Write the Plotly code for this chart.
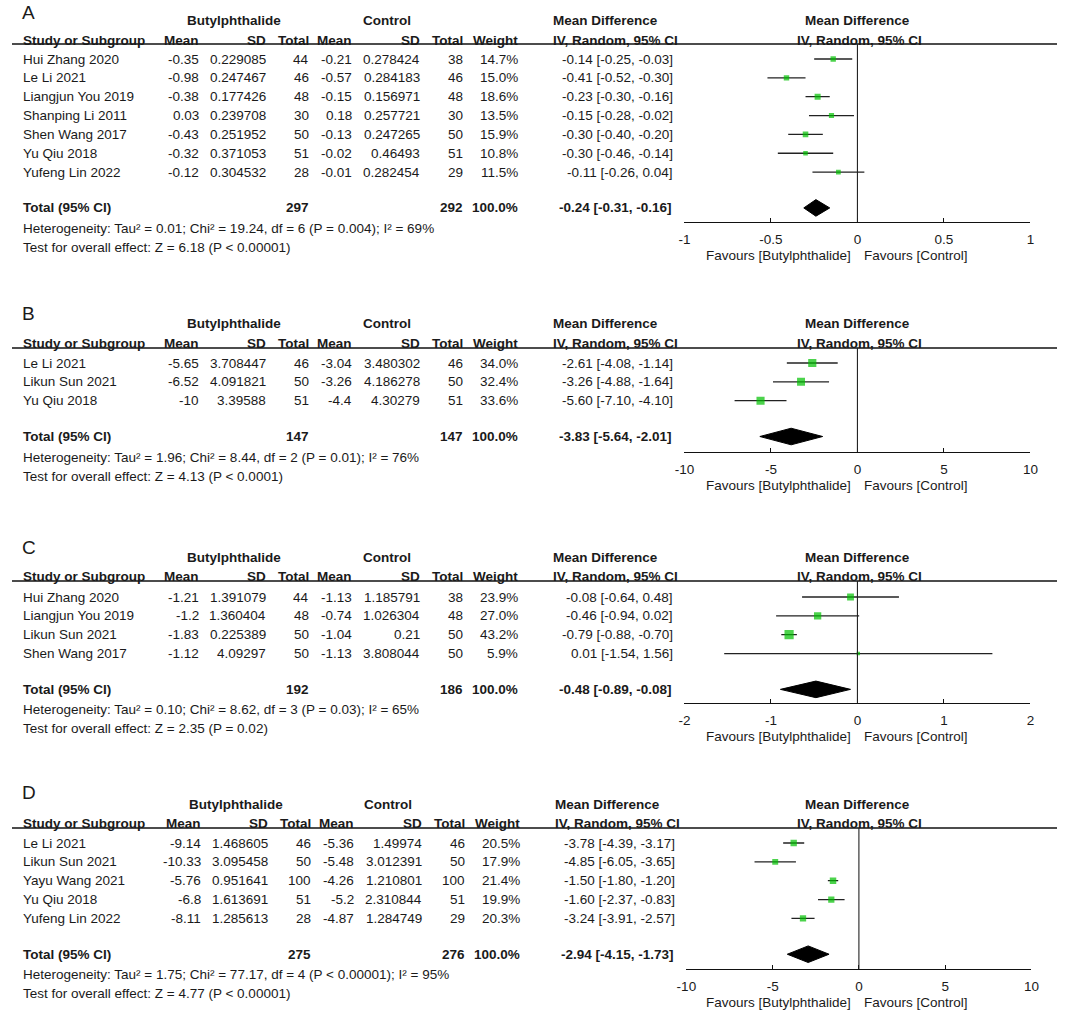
import plotly.graph_objects as go

W, H = 1065, 1010

# ---------------- Data ----------------
A_study = ["Hui Zhang 2020", "Le Li 2021", "Liangjun You 2019", "Shanping Li 2011",
           "Shen Wang 2017", "Yu Qiu 2018", "Yufeng Lin 2022"]
A_b_mean = [-0.35, -0.98, -0.38, 0.03, -0.43, -0.32, -0.12]
A_b_sd = [0.229085, 0.247467, 0.177426, 0.239708, 0.251952, 0.371053, 0.304532]
A_b_n = [44, 46, 48, 30, 50, 51, 28]
A_c_mean = [-0.21, -0.57, -0.15, 0.18, -0.13, -0.02, -0.01]
A_c_sd = [0.278424, 0.284183, 0.156971, 0.257721, 0.247265, 0.46493, 0.282454]
A_c_n = [38, 46, 48, 30, 50, 51, 29]
A_weight = [14.7, 15.0, 18.6, 13.5, 15.9, 10.8, 11.5]
A_md = [-0.14, -0.41, -0.23, -0.15, -0.30, -0.30, -0.11]
A_lo = [-0.25, -0.52, -0.30, -0.28, -0.40, -0.46, -0.26]
A_hi = [-0.03, -0.30, -0.16, -0.02, -0.20, -0.14, 0.04]
A_total = [297, 292, -0.24, -0.31, -0.16]
A_het = "Heterogeneity: Tau² = 0.01; Chi² = 19.24, df = 6 (P = 0.004); I² = 69%"
A_test = "Test for overall effect: Z = 6.18 (P < 0.00001)"
A_ticks = [-1, -0.5, 0, 0.5, 1]

B_study = ["Le Li 2021", "Likun Sun 2021", "Yu Qiu 2018"]
B_b_mean = [-5.65, -6.52, -10]
B_b_sd = [3.708447, 4.091821, 3.39588]
B_b_n = [46, 50, 51]
B_c_mean = [-3.04, -3.26, -4.4]
B_c_sd = [3.480302, 4.186278, 4.30279]
B_c_n = [46, 50, 51]
B_weight = [34.0, 32.4, 33.6]
B_md = [-2.61, -3.26, -5.60]
B_lo = [-4.08, -4.88, -7.10]
B_hi = [-1.14, -1.64, -4.10]
B_total = [147, 147, -3.83, -5.64, -2.01]
B_het = "Heterogeneity: Tau² = 1.96; Chi² = 8.44, df = 2 (P = 0.01); I² = 76%"
B_test = "Test for overall effect: Z = 4.13 (P < 0.0001)"
B_ticks = [-10, -5, 0, 5, 10]

C_study = ["Hui Zhang 2020", "Liangjun You 2019", "Likun Sun 2021", "Shen Wang 2017"]
C_b_mean = [-1.21, -1.2, -1.83, -1.12]
C_b_sd = [1.391079, 1.360404, 0.225389, 4.09297]
C_b_n = [44, 48, 50, 50]
C_c_mean = [-1.13, -0.74, -1.04, -1.13]
C_c_sd = [1.185791, 1.026304, 0.21, 3.808044]
C_c_n = [38, 48, 50, 50]
C_weight = [23.9, 27.0, 43.2, 5.9]
C_md = [-0.08, -0.46, -0.79, 0.01]
C_lo = [-0.64, -0.94, -0.88, -1.54]
C_hi = [0.48, 0.02, -0.70, 1.56]
C_total = [192, 186, -0.48, -0.89, -0.08]
C_het = "Heterogeneity: Tau² = 0.10; Chi² = 8.62, df = 3 (P = 0.03); I² = 65%"
C_test = "Test for overall effect: Z = 2.35 (P = 0.02)"
C_ticks = [-2, -1, 0, 1, 2]

D_study = ["Le Li 2021", "Likun Sun 2021", "Yayu Wang 2021", "Yu Qiu 2018", "Yufeng Lin 2022"]
D_b_mean = [-9.14, -10.33, -5.76, -6.8, -8.11]
D_b_sd = [1.468605, 3.095458, 0.951641, 1.613691, 1.285613]
D_b_n = [46, 50, 100, 51, 28]
D_c_mean = [-5.36, -5.48, -4.26, -5.2, -4.87]
D_c_sd = [1.49974, 3.012391, 1.210801, 2.310844, 1.284749]
D_c_n = [46, 50, 100, 51, 29]
D_weight = [20.5, 17.9, 21.4, 19.9, 20.3]
D_md = [-3.78, -4.85, -1.50, -1.60, -3.24]
D_lo = [-4.39, -6.05, -1.80, -2.37, -3.91]
D_hi = [-3.17, -3.65, -1.20, -0.83, -2.57]
D_total = [275, 276, -2.94, -4.15, -1.73]
D_het = "Heterogeneity: Tau² = 1.75; Chi² = 77.17, df = 4 (P < 0.00001); I² = 95%"
D_test = "Test for overall effect: Z = 4.77 (P < 0.00001)"
D_ticks = [-10, -5, 0, 5, 10]

panel_labels = ["A", "B", "C", "D"]
header_cols = ["Mean", "SD", "Total", "Mean", "SD", "Total", "Weight"]

# ---------------- Layout geometry (pixels) ----------------
FONT = "Liberation Sans, Arial, sans-serif"
TXT = "#1a1a1a"
GREEN = "#00C000"
FS = 13.5
S = 18.85  # row spacing px

geo = [
    dict(label=12, group=20, header=40, line=44, row0=59, axis=222, ax0=686, ax1=1038, dx=0),
    dict(label=313, group=323, header=343, line=348, row0=363, axis=452, ax0=686, ax1=1038, dx=0),
    dict(label=547, group=557, header=576, line=581, row0=597, axis=703, ax0=686, ax1=1038, dx=0),
    dict(label=792, group=804, header=823, line=828, row0=843, axis=969, ax0=688, ax1=1039, dx=2),
]
col_right = [192, 260, 304, 348, 417, 461, 517]

panels = [
    (A_study, A_b_mean, A_b_sd, A_b_n, A_c_mean, A_c_sd, A_c_n, A_weight, A_md, A_lo, A_hi, A_total, A_het, A_test, A_ticks),
    (B_study, B_b_mean, B_b_sd, B_b_n, B_c_mean, B_c_sd, B_c_n, B_weight, B_md, B_lo, B_hi, B_total, B_het, B_test, B_ticks),
    (C_study, C_b_mean, C_b_sd, C_b_n, C_c_mean, C_c_sd, C_c_n, C_weight, C_md, C_lo, C_hi, C_total, C_het, C_test, C_ticks),
    (D_study, D_b_mean, D_b_sd, D_b_n, D_c_mean, D_c_sd, D_c_n, D_weight, D_md, D_lo, D_hi, D_total, D_het, D_test, D_ticks),
]

fig = go.Figure()
annotations = []
shapes = []


def px(x):
    return x / W


def py(y):
    return 1 - y / H


def txt(x, y, s, anchor="left", bold=False, size=FS):
    annotations.append(dict(
        x=px(x), y=py(y), xref="paper", yref="paper", text=("<b>%s</b>" % s) if bold else s,
        showarrow=False, xanchor=anchor, yanchor="middle", borderpad=0, borderwidth=0,
        font=dict(family=FONT, size=size, color=TXT)))


def fmt(v):
    return str(v)


for k, (study, bm, bsd, bn, cm, csd, cn, w, md, lo, hi, tot, het, test, ticks) in enumerate(panels):
    g = geo[k]
    dx = g["dx"]
    n = len(study)
    ax = "" if k == 0 else str(k + 1)
    xa, ya = "x" + ax, "y" + ax
    total_idx = n - 1 + 1.9
    total_px = g["row0"] + total_idx * S

    # text: label + headers
    txt(12, g["label"], panel_labels[k], size=19)
    txt(228 + dx, g["group"], "Butylphthalide", "center", True)
    txt(383 + dx, g["group"], "Control", "center", True)
    txt(552 + dx, g["group"], "Mean Difference", "left", True)
    txt(862, g["group"], "Mean Difference", "center", True)
    txt(13, g["header"], "Study or Subgroup", "left", True)
    for c, h in zip(col_right, header_cols):
        txt(c + dx, g["header"], h, "right", True)
    txt(552 + dx, g["header"], "IV, Random, 95% CI", "left", True)
    txt(864, g["header"], "IV, Random, 95% CI", "center", True)
    shapes.append(dict(type="line", xref="paper", yref="paper", x0=px(2), x1=1,
                       y0=py(g["line"]), y1=py(g["line"]), line=dict(color="#111", width=1.3)))

    # rows
    for i in range(n):
        y = g["row0"] + i * S
        txt(13, y, study[i])
        vals = [fmt(bm[i]), fmt(bsd[i]), fmt(bn[i]), fmt(cm[i]), fmt(csd[i]), fmt(cn[i]), "%.1f%%" % w[i]]
        for c, v in zip(col_right, vals):
            txt(c + dx, y, v, "right")
        txt(674 + dx, y, "%.2f [%.2f, %.2f]" % (md[i], lo[i], hi[i]), "right")

    # total row
    txt(13, total_px, "Total (95% CI)", "left", True)
    txt(col_right[2] + dx, total_px, str(tot[0]), "right", True)
    txt(col_right[5] + dx, total_px, str(tot[1]), "right", True)
    txt(col_right[6] + dx, total_px, "100.0%", "right", True)
    txt(673 + dx, total_px, "%.2f [%.2f, %.2f]" % (tot[2], tot[3], tot[4]), "right", True)
    txt(13, total_px + 20.5, het)
    txt(13, total_px + 39.5, test)

    # favours labels
    txt(855, g["axis"] + 33, "Favours [Butylphthalide]", "right")
    txt(869, g["axis"] + 33, "Favours [Control]", "left")

    # axes
    y_top = (g["line"] - g["row0"]) / S
    y_bot = (g["axis"] - g["row0"]) / S
    rng = ticks[-1]
    fig.layout[("xaxis" + ax) if ax else "xaxis"] = dict(
        domain=[px(g["ax0"]), px(g["ax1"])], range=[-rng, rng], anchor=ya,
        showline=True, linecolor="#111", linewidth=1.3, mirror=False,
        ticks="inside", ticklen=4, tickwidth=1.3, tickcolor="#111",
        tickvals=ticks, ticktext=[("%g" % t) for t in ticks], ticklabelstandoff=5,
        tickfont=dict(family=FONT, size=FS, color=TXT),
        showgrid=False, zeroline=False, fixedrange=True)
    fig.layout[("yaxis" + ax) if ax else "yaxis"] = dict(
        domain=[py(g["axis"]), py(g["line"])], range=[y_bot, y_top], anchor=xa,
        visible=False, showgrid=False, zeroline=False, fixedrange=True)

    # zero line
    shapes.append(dict(type="line", xref=xa, yref=ya + " domain", x0=0, x1=0, y0=0, y1=1,
                       line=dict(color="#222", width=1.1)))

    # CI lines
    for i in range(n):
        fig.add_trace(go.Scatter(x=[lo[i], hi[i]], y=[i, i], mode="lines", xaxis=xa, yaxis=ya,
                                 line=dict(color="#222", width=1.3), showlegend=False, hoverinfo="skip"))
    # squares
    fig.add_trace(go.Scatter(x=md, y=list(range(n)), mode="markers", xaxis=xa, yaxis=ya,
                             marker=dict(symbol="square", color=GREEN,
                                         size=[1.4 * (wi ** 0.5) for wi in w], line=dict(width=0)),
                             showlegend=False))
    # diamond
    dh = 0.44
    fig.add_trace(go.Scatter(x=[tot[3], tot[2], tot[4], tot[2], tot[3]],
                             y=[total_idx, total_idx - dh, total_idx, total_idx + dh, total_idx],
                             mode="lines", fill="toself", fillcolor="#000", line=dict(color="#000", width=1),
                             xaxis=xa, yaxis=ya, showlegend=False, hoverinfo="skip"))

fig.update_layout(width=W, height=H, margin=dict(l=0, r=0, t=0, b=0), autosize=False,
                  paper_bgcolor="white", plot_bgcolor="white",
                  annotations=annotations, shapes=shapes, showlegend=False,
                  font=dict(family=FONT, color=TXT))
fig.write_html("out.html", config={"displayModeBar": False},
               post_script="document.body.style.margin='0';document.body.style.overflow='hidden';")
